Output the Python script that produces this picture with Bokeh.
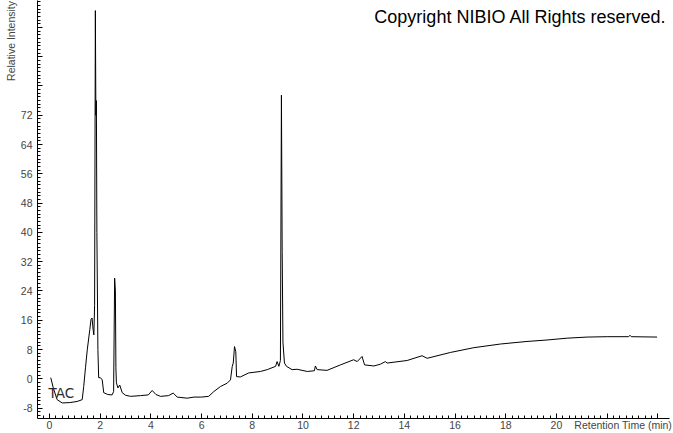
from bokeh.plotting import figure
from bokeh.models import Label, FixedTicker, Range1d, LinearAxis
from bokeh.embed import file_html
from bokeh.resources import INLINE

# Retention time (min) and relative intensity
retention_time = [0.05, 0.15, 0.30, 0.50, 0.80, 1.09, 1.29, 1.35, 1.42, 1.49, 1.59, 1.64, 1.68,
                  1.72, 1.75, 1.78, 1.81, 1.83, 1.85, 1.87, 1.91, 1.94, 2.01, 2.08, 2.14, 2.30,
                  2.47, 2.53, 2.57, 2.60, 2.62, 2.64, 2.70, 2.77, 2.87, 3.00, 3.20, 3.59, 3.90,
                  4.05, 4.20, 4.38, 4.70, 4.88, 5.04, 5.43, 5.70, 6.00, 6.28, 6.48, 6.75, 7.01,
                  7.14, 7.21, 7.25, 7.30, 7.35, 7.38, 7.53, 7.86, 8.32, 8.59, 8.92, 8.98, 9.05,
                  9.11, 9.15, 9.18, 9.21, 9.27, 9.35, 9.57, 9.77, 10.17, 10.45, 10.49, 10.56,
                  10.95, 11.48, 12.00, 12.14, 12.33, 12.43, 12.80, 13.06, 13.25, 13.32, 14.11,
                  14.70, 14.90, 15.82, 16.74, 17.79, 18.84, 19.63, 20.42, 21.21, 22.00, 22.85,
                  22.90, 22.95, 23.97]
intensity = [0.3, -2.5, -5.7, -6.6, -6.5, -6.2, -5.7, -2.1, 3.0, 7.9, 13.4, 16.3, 16.6,
             13.5, 12.0, 20.0, 100.6, 72.0, 76.0, 40.0, 8.0, 0.3, 0.3, -0.3, -3.8, -4.3,
             -4.4, -3.5, 27.5, 24.0, 3.0, -1.1, -2.5, -1.7, -3.8, -4.5, -4.8, -4.6, -4.4,
             -3.2, -4.3, -4.8, -4.6, -3.9, -5.0, -5.3, -5.0, -5.0, -4.8, -3.5, -2.1, -1.2,
             -0.3, 3.4, 4.3, 8.8, 7.4, 0.6, 0.5, 1.6, 2.0, 2.5, 3.4, 4.7, 3.4,
             5.0, 77.5, 34.7, 10.0, 4.3, 3.4, 2.5, 2.6, 2.0, 2.2, 3.5, 2.5,
             2.3, 3.8, 5.2, 4.7, 6.1, 3.8, 3.5, 4.0, 4.7, 4.3, 5.0,
             6.3, 5.6, 7.2, 8.5, 9.5, 10.2, 10.6, 11.1, 11.4, 11.5, 11.5,
             11.9, 11.5, 11.4]

y_ticks = [-8, 0, 8, 16, 24, 32, 40, 48, 56, 64, 72, 80, 88, 96]
y_labels_shown = [-8, 0, 8, 16, 24, 32, 40, 48, 56, 64, 72]
x_ticks = [0, 2, 4, 6, 8, 10, 12, 14, 16, 18, 20, 22, 24]
x_labels_shown = [0, 2, 4, 6, 8, 10, 12, 14, 16, 18, 20]
x_title = "Retention Time (min)"
y_title = "Relative Intensity"
y_title_pos = 92.3
x_title_tick = 22
copyright_text = "Copyright NIBIO All Rights reserved."

X0, X1 = -0.473, 24.46
Y0, Y1 = -10.85, 103.36

p = figure(width=673, height=433, output_backend="svg", toolbar_location=None,
           x_range=Range1d(X0, X1), y_range=Range1d(Y0, Y1),
           min_border_left=37, min_border_right=4, min_border_top=0, min_border_bottom=12)
p.outline_line_color = None
p.grid.visible = False
p.background_fill_color = "white"
p.border_fill_color = "white"

p.line(retention_time, intensity, line_color="black", line_width=1)

tick_color = "#444444"
FONT = "Liberation Sans"
for ax in (p.xaxis[0], p.yaxis[0]):
    ax.axis_line_color = "black"
    ax.major_tick_line_color = "black"
    ax.minor_tick_line_color = "black"
    ax.major_tick_in = 5
    ax.major_tick_out = 0
    ax.minor_tick_in = 3
    ax.minor_tick_out = 0
    ax.major_label_text_font = FONT
    ax.major_label_text_font_size = "10.5px"
    ax.major_label_text_color = tick_color

p.xaxis.ticker = FixedTicker(ticks=x_ticks, minor_ticks=[i * 0.25 for i in range(-1, 97)])
p.yaxis.ticker = FixedTicker(ticks=y_ticks, minor_ticks=list(range(-10, 104)))
x_over = {t: (str(t) if t in x_labels_shown else "") for t in x_ticks}
x_over[x_title_tick] = "\u00a0" * 11 + x_title
p.xaxis.major_label_overrides = x_over
p.yaxis.major_label_overrides = {t: (str(t) if t in y_labels_shown else "") for t in y_ticks}
p.xaxis.major_label_standoff = 0
p.yaxis.major_label_standoff = 5

# vertical y title near the top of the axis, as in the reference
ytitle_axis = LinearAxis(ticker=FixedTicker(ticks=[y_title_pos], minor_ticks=[]),
                         major_label_overrides={y_title_pos: y_title},
                         major_label_orientation="vertical",
                         axis_line_color=None, major_tick_line_color=None,
                         minor_tick_line_color=None, major_label_standoff=0,
                         major_tick_in=0, major_tick_out=0, minor_tick_in=0, minor_tick_out=0,
                         major_label_text_font=FONT, major_label_text_font_size="10.5px",
                         major_label_text_color=tick_color)
p.add_layout(ytitle_axis, "left")

p.add_layout(Label(x=24.34, y=98.8, text=copyright_text,
                   text_align="right", text_baseline="alphabetic", text_font=FONT,
                   text_font_size="18px", text_color="black"))
p.add_layout(Label(x=-0.04, y=-3.85, text="TAC", text_align="left", text_baseline="middle",
                   text_font="DejaVu Sans", text_font_size="13.5px", text_color="#2a2a2a"))

open("out.html", "w").write(file_html(p, INLINE))
